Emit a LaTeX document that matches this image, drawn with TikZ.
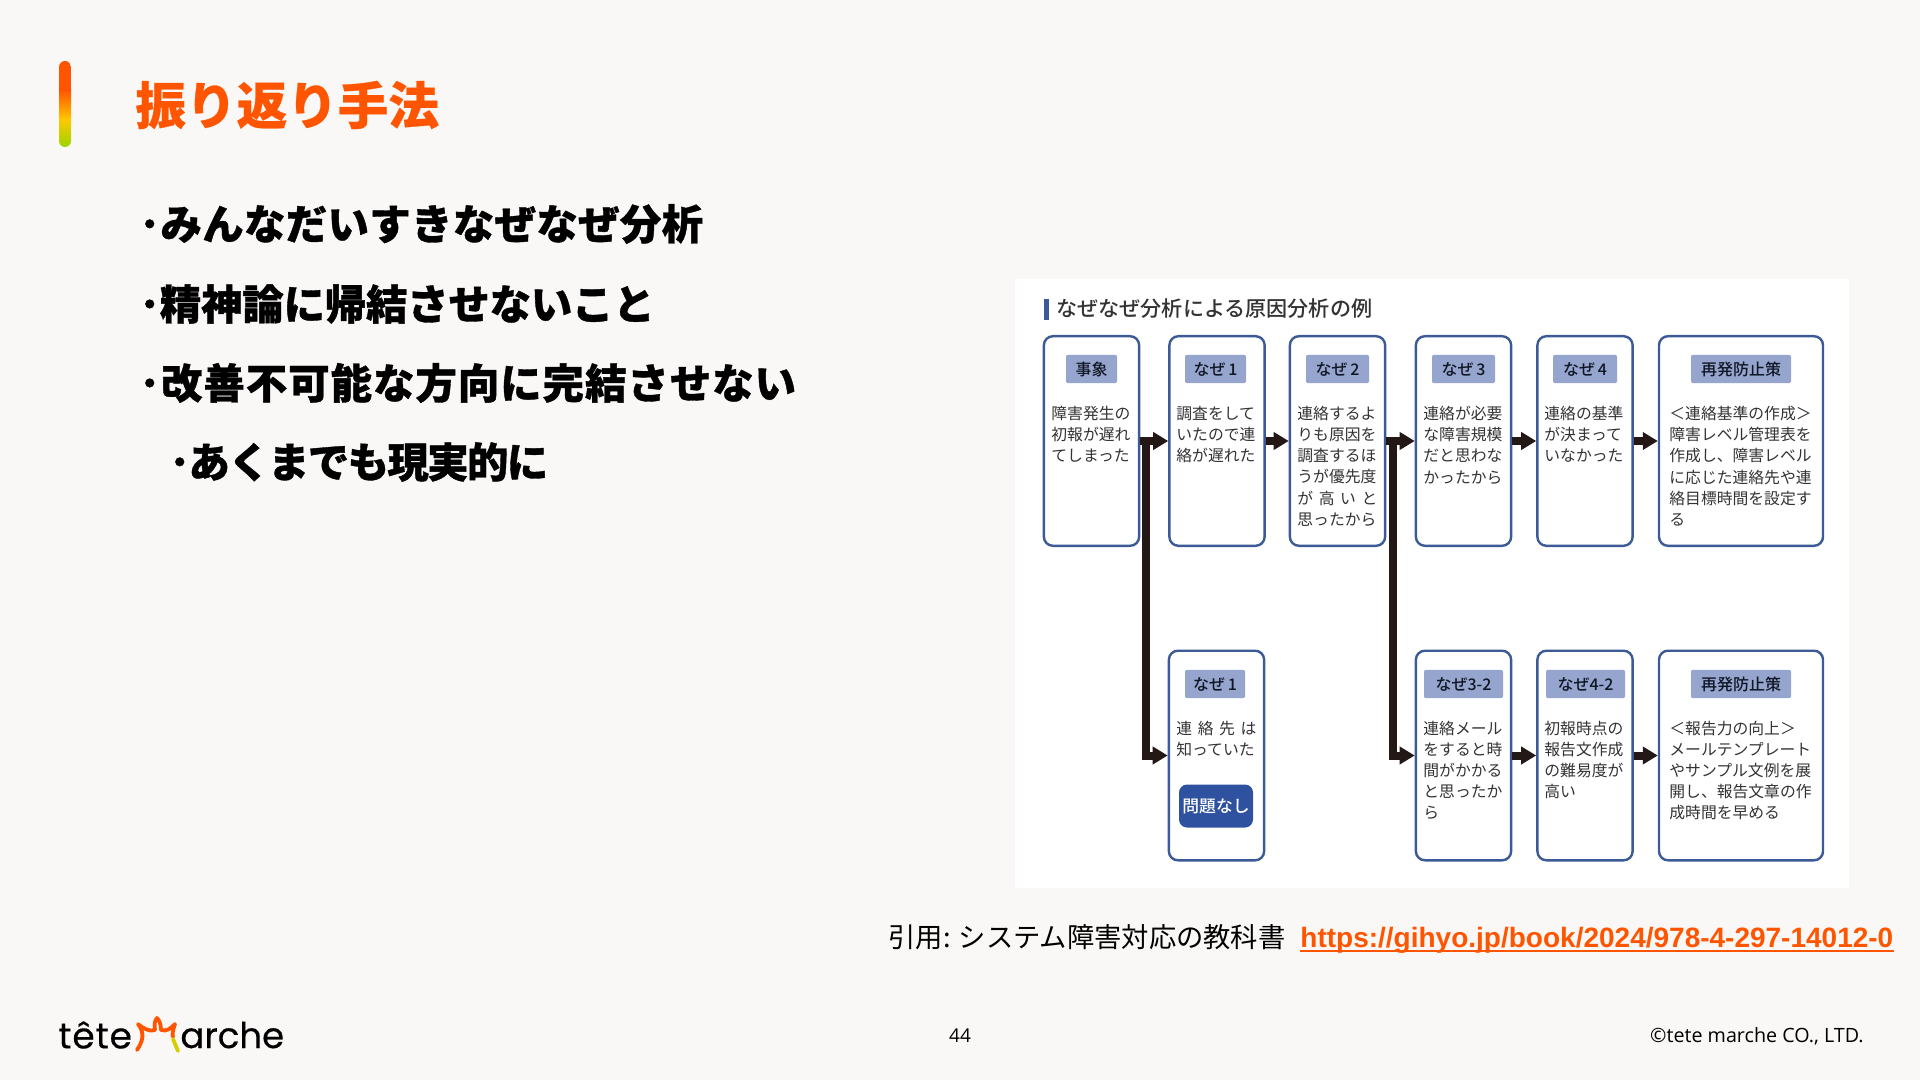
\documentclass[tikz,border=0pt]{standalone}
\usepackage{fontspec}
\setmainfont{Noto Sans CJK JP}
\newfontfamily\latinlink{Liberation Sans}
\newfontfamily\poppins[FakeBold=0.35]{Poppins}
\newfontfamily\footfont{Open Sans}
\newfontfamily\heavyfont[BoldFeatures={FakeBold=0.9}]{Noto Sans CJK JP}
\newfontfamily\titlefont[BoldFeatures={FakeBold=0.5}]{Noto Sans CJK JP}
\newfontfamily\medfont{Noto Sans CJK JP Medium}
\usetikzlibrary{arrows.meta}
\definecolor{pagebg}{HTML}{FAF8F7}
\definecolor{accent}{HTML}{FF5500}
\definecolor{midyellow}{HTML}{FFC800}
\definecolor{limegreen}{HTML}{99D600}
\definecolor{boxblue}{HTML}{3C5A96}
\definecolor{tagblue}{HTML}{96A5CD}
\definecolor{solidblue}{HTML}{2F52A0}
\definecolor{arrowink}{HTML}{231815}
\definecolor{bodyink}{HTML}{333333}
\tikzset{
  card/.style={draw=boxblue,line width=1.2pt,rounded corners=4.5pt,fill=white,minimum height=104.8pt,inner sep=0pt},
  tag/.style={fill=tagblue,rounded corners=1pt,minimum height=14.2pt,inner sep=0pt,font=\fontsize{8}{10}\medfont\selectfont,text=black!75!boxblue},
  body/.style={anchor=north west,inner sep=0pt,align=left,text=bodyink,font=\fontsize{7.9}{10.55}\selectfont},
  flow/.style={draw=arrowink,line width=4pt,-{Triangle[length=7.5pt,width=8.5pt]}},
  bullet/.style={anchor=west,inner sep=0pt,font=\fontsize{20.7}{25}\heavyfont\selectfont\bfseries,text=black},
}
\newcommand{\spread}[1]{\hbox to 40pt{#1}}
\newcommand{\trk}[1]{\addfontfeature{LetterSpace=#1}}
\begin{document}
\begin{tikzpicture}[x=0.5pt,y=-0.5pt]
\fill[pagebg] (0,0) rectangle (1920,1080);
\useasboundingbox (0,0) rectangle (1920,1080);
% title bar
\begin{scope}
\clip[rounded corners=3pt] (59,61) rectangle (71,147);
\fill[accent] (59,61) rectangle (71,91);
\shade[top color=accent,bottom color=midyellow] (59,90) rectangle (71,120);
\shade[top color=midyellow,bottom color=limegreen] (59,119.5) rectangle (71,147);
\end{scope}
\node[anchor=west,inner sep=0pt,text=accent,font=\fontsize{25.3}{30}\titlefont\selectfont\bfseries] (title) at (135,105) {振り返り手法};
\node[bullet] (b1) at (139,224) {\trk{0.9}･みんなだいすきなぜなぜ分析};
\node[bullet] (b2) at (139,304) {\trk{-0.45}･精神論に帰結させないこと};
\node[bullet] (b3) at (139,383) {\trk{2.4}･改善不可能な方向に完結させない};
\node[bullet] (b4) at (169,462) {\trk{-3.9}･あくまでも現実的に};
% image panel
\fill[white] (1015,279) rectangle (1849,888);
\fill[boxblue] (1044,299) rectangle (1049,320);
\node[anchor=west,inner sep=0pt,text=bodyink,font=\fontsize{10.55}{12}\medfont\selectfont] (chart) at (1056,309) {なぜなぜ分析による原因分析の例};
% cards
\node[card,minimum width=47.6pt] (c1) at (1091.5,441) {};
\node[card,minimum width=47.6pt] (c2) at (1217,441) {};
\node[card,minimum width=47.6pt] (c3) at (1337.5,441) {};
\node[card,minimum width=47.6pt] (c4) at (1463.5,441) {};
\node[card,minimum width=47.6pt] (c5) at (1585,441) {};
\node[card,minimum width=82pt] (c6) at (1741,441) {};
\node[card,minimum width=47.6pt] (d2) at (1216.5,755.5) {};
\node[card,minimum width=47.6pt] (d4) at (1463.5,755.5) {};
\node[card,minimum width=47.6pt] (d5) at (1585,755.5) {};
\node[card,minimum width=82pt] (d6) at (1741,755.5) {};
% tags
\node[tag,minimum width=25.5pt] (t1) at (1091.5,369) {事象};
\node[tag,minimum width=30.5pt] (t2) at (1215.5,369) {なぜ\,1};
\node[tag,minimum width=31.5pt] (t3) at (1337.5,369) {なぜ\,2};
\node[tag,minimum width=31.5pt] (t4) at (1463.5,369) {なぜ\,3};
\node[tag,minimum width=32pt] (t5) at (1585,369) {なぜ\,4};
\node[tag,minimum width=50pt] (t6) at (1741,369) {再発防止策};
\node[tag,minimum width=30pt] (u2) at (1215,684) {なぜ\,1};
\node[tag,minimum width=39.5pt] (u4) at (1463.5,684) {なぜ3-2};
\node[tag,minimum width=39.5pt] (u5) at (1585.5,684) {なぜ4-2};
\node[tag,minimum width=50pt] (u6) at (1741,684) {再発防止策};
% body text
\node[body] (x1) at (1051,406) {障害発生の\\初報が遅れ\\てしまった};
\node[body] (x2) at (1176,406) {調査をして\\いたので連\\絡が遅れた};
\node[body] (x3) at (1297,406) {連絡するよ\\りも原因を\\調査するほ\\うが優先度\\\spread{が\hfill 高\hfill い\hfill と}\\思ったから};
\node[body] (x4) at (1423,406) {連絡が必要\\な障害規模\\だと思わな\\かったから};
\node[body] (x5) at (1544,406) {連絡の基準\\が決まって\\いなかった};
\node[body] (x6) at (1669,406) {＜連絡基準の作成＞\\障害レベル管理表を\\作成し、障害レベル\\に応じた連絡先や連\\絡目標時間を設定す\\る};
\node[body] (y2) at (1176,720.5) {\spread{連\hfill 絡\hfill 先\hfill は}\\知っていた};
\node[body] (y4) at (1423,720.5) {連絡メール\\をすると時\\間がかかる\\と思ったか\\ら};
\node[body] (y5) at (1544,720.5) {初報時点の\\報告文作成\\の難易度が\\高い};
\node[body] (y6) at (1669,720.5) {＜報告力の向上＞\\メールテンプレート\\やサンプル文例を展\\開し、報告文章の作\\成時間を早める};
\node[fill=solidblue,rounded corners=4pt,minimum width=37pt,minimum height=21.5pt,inner sep=0pt,text=white,font=\fontsize{8.4}{10}\medfont\selectfont] (ok) at (1216,806) {問題なし};
% connectors
\draw[flow] (c1.east) -- (c2.west);
\draw[flow] (c2.east) -- (c3.west);
\draw[flow] (c3.east) -- (c4.west);
\draw[flow] (c4.east) -- (c5.west);
\draw[flow] (c5.east) -- (c6.west);
\draw[flow] (d4.east) -- (d5.west);
\draw[flow] (d5.east) -- (d6.west);
\draw[flow] (c1.east) -- ++(6,0) |- (d2.west);
\draw[flow] (c3.east) -- ++(7,0) |- (d4.west);
% citation
\node[anchor=west,inner sep=0pt,text=black,font=\fontsize{13.65}{16}\selectfont] (cite) at (888,937) {引用: システム障害対応の教科書};
\node[anchor=west,inner sep=0pt,text=accent,font=\fontsize{14}{16}\latinlink\bfseries\selectfont] (link) at (1300,940) {https://gihyo.jp/book/2024/978-4-297-14012-0};
\draw[accent,line width=1pt] ([yshift=-2pt]link.base west) -- ([yshift=-2pt]link.base east);
% footer
\node[inner sep=0pt,text=black,font=\fontsize{9.5}{12}\footfont\selectfont] (page) at (960,1036) {44};
\node[anchor=east,inner sep=0pt,text=black,font=\fontsize{9.85}{12}\footfont\selectfont] (copy) at (1864,1036) {©tete marche CO., LTD.};
\node[anchor=west,inner sep=0pt,text=black,font=\fontsize{18}{22}\poppins\selectfont\trk{2.5}] (logoa) at (58,1035) {tête};
\node[anchor=west,inner sep=0pt,text=black,font=\fontsize{17.8}{22}\poppins\selectfont] (logob) at (180,1035) {arche};
\draw[accent,line width=1.9pt,line join=round,line cap=round] (137,1050) .. controls (143,1041) and (145,1033) .. (138,1024) .. controls (144,1029) and (150,1032) .. (155,1030) .. controls (154,1024) and (155,1020) .. (157,1018) .. controls (159,1020) and (161,1024) .. (161,1030) .. controls (167,1032) and (171,1028) .. (175,1024) .. controls (173,1030) and (172,1034) .. (173,1037);
\draw[midyellow!60!limegreen,line width=1.9pt,line cap=round] (173,1039) -- (178,1051);
\end{tikzpicture}
\end{document}
